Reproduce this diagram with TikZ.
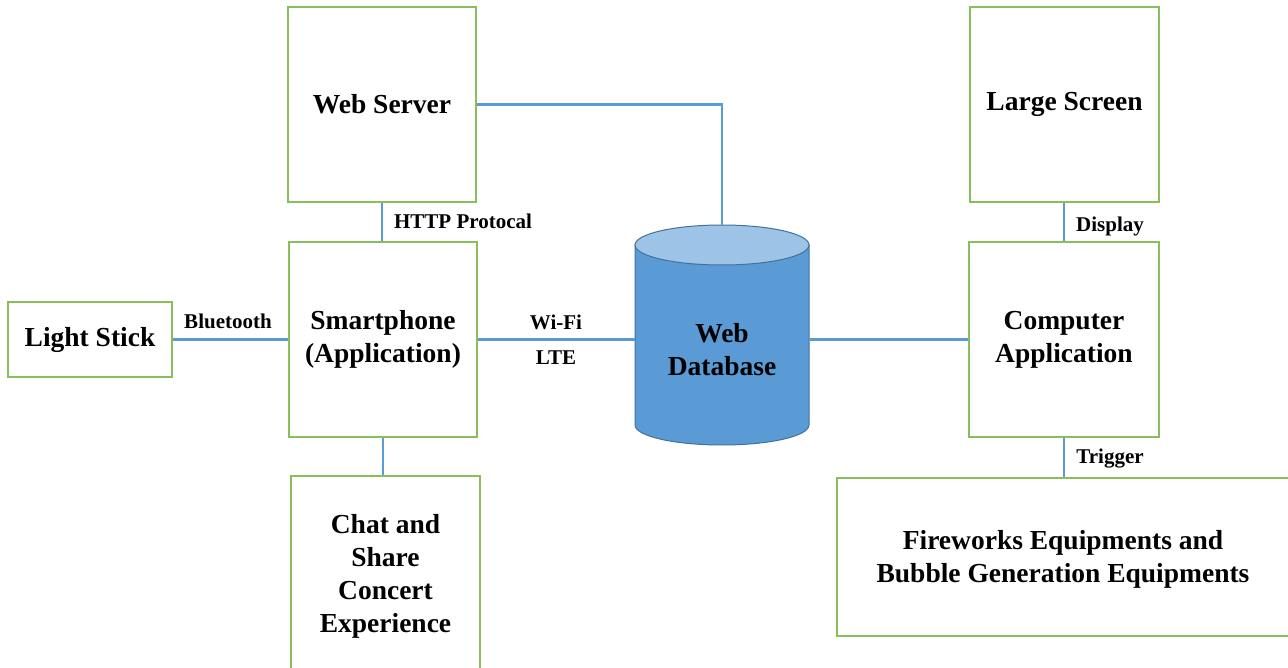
\documentclass[tikz,border=0pt]{standalone}
\usepackage{fontspec}
\setmainfont{Liberation Serif}
\begin{document}
\begin{tikzpicture}[x=1pt,y=-1pt,
  box/.style={draw={rgb,255:red,138;green,190;blue,90}, line width=1.6pt, fill=white, inner sep=0pt, align=center, font=\fontsize{27.5}{33}\selectfont\bfseries},
  link/.style={draw={rgb,255:red,91;green,155;blue,213}, line width=2.4pt},
  lbl/.style={font=\fontsize{21}{22}\selectfont\bfseries, inner sep=0pt}]
\useasboundingbox (0,0) rectangle (1288,668);
\clip (0,0) rectangle (1288,668);
\definecolor{dbfill}{RGB}{91,155,213}
\definecolor{dbtop}{RGB}{157,195,230}
\definecolor{dbedge}{RGB}{65,113,156}
% boxes
\node[box, minimum width=188pt, minimum height=195pt] (web) at (382,104.5) {Web Server};
\node[box, minimum width=188pt, minimum height=195pt] (phone) at (383,339.5) {Smartphone\\(Application)};
\node[box, minimum width=164pt, minimum height=75pt] (stick) at (90,339.5) {Light Stick};
\node[box, minimum width=189pt, minimum height=200pt] (chat) at (385.5,576) {Chat and\\Share\\Concert\\Experience};
\node[box, minimum width=189pt, minimum height=195pt] (screen) at (1064.5,104.5) {Large Screen};
\node[box, minimum width=190pt, minimum height=195pt] (comp) at (1064,339.5) {Computer\\Application};
\node[box, minimum width=452pt, minimum height=158pt] (fire) at (1063,557) {};
\node[font=\fontsize{27.5}{33}\selectfont\bfseries, align=center] (firetext) at (1063,559) {Fireworks Equipments and\\Bubble Generation Equipments};
% database cylinder
\node[minimum width=174pt, minimum height=220pt, inner sep=0pt] (db) at (722,335) {};
\fill[dbfill, draw=dbedge, line width=1pt] (635,245) -- (635,425) arc[start angle=180, end angle=360, x radius=87pt, y radius=20pt] -- (809,245) -- cycle;
\fill[dbtop, draw=dbedge, line width=1pt] (722,245) ellipse [x radius=87pt, y radius=20pt];
\node[font=\fontsize{27.5}{33}\selectfont\bfseries, align=center] (dbtext) at (722,350) {Web\\Database};
% connectors
\draw[link] (web.south) -- (web.south |- phone.north);
\draw[link] (web.east) -| (db.north);
\draw[link] (stick.east) -- (phone.west);
\draw[link] (phone.east) -- (phone.east -| db.west);
\draw[link] (comp.west -| db.east) -- (comp.west);
\draw[link] (comp.north |- screen.south) -- (comp.north);
\draw[link] (comp.south) -- (comp.south |- fire.north);
\draw[link] (phone.south) -- (phone.south |- chat.north);
% labels
\node[lbl] (l1) at (463,221) {HTTP Protocal};
\node[lbl] (l2) at (228,321) {Bluetooth};
\node[lbl] (l3) at (556,322) {Wi-Fi};
\node[lbl] (l4) at (556,358) {LTE};
\node[lbl] (l5) at (1110,226) {Display};
\node[lbl] (l6) at (1110,459) {Trigger};
\end{tikzpicture}
\end{document}
